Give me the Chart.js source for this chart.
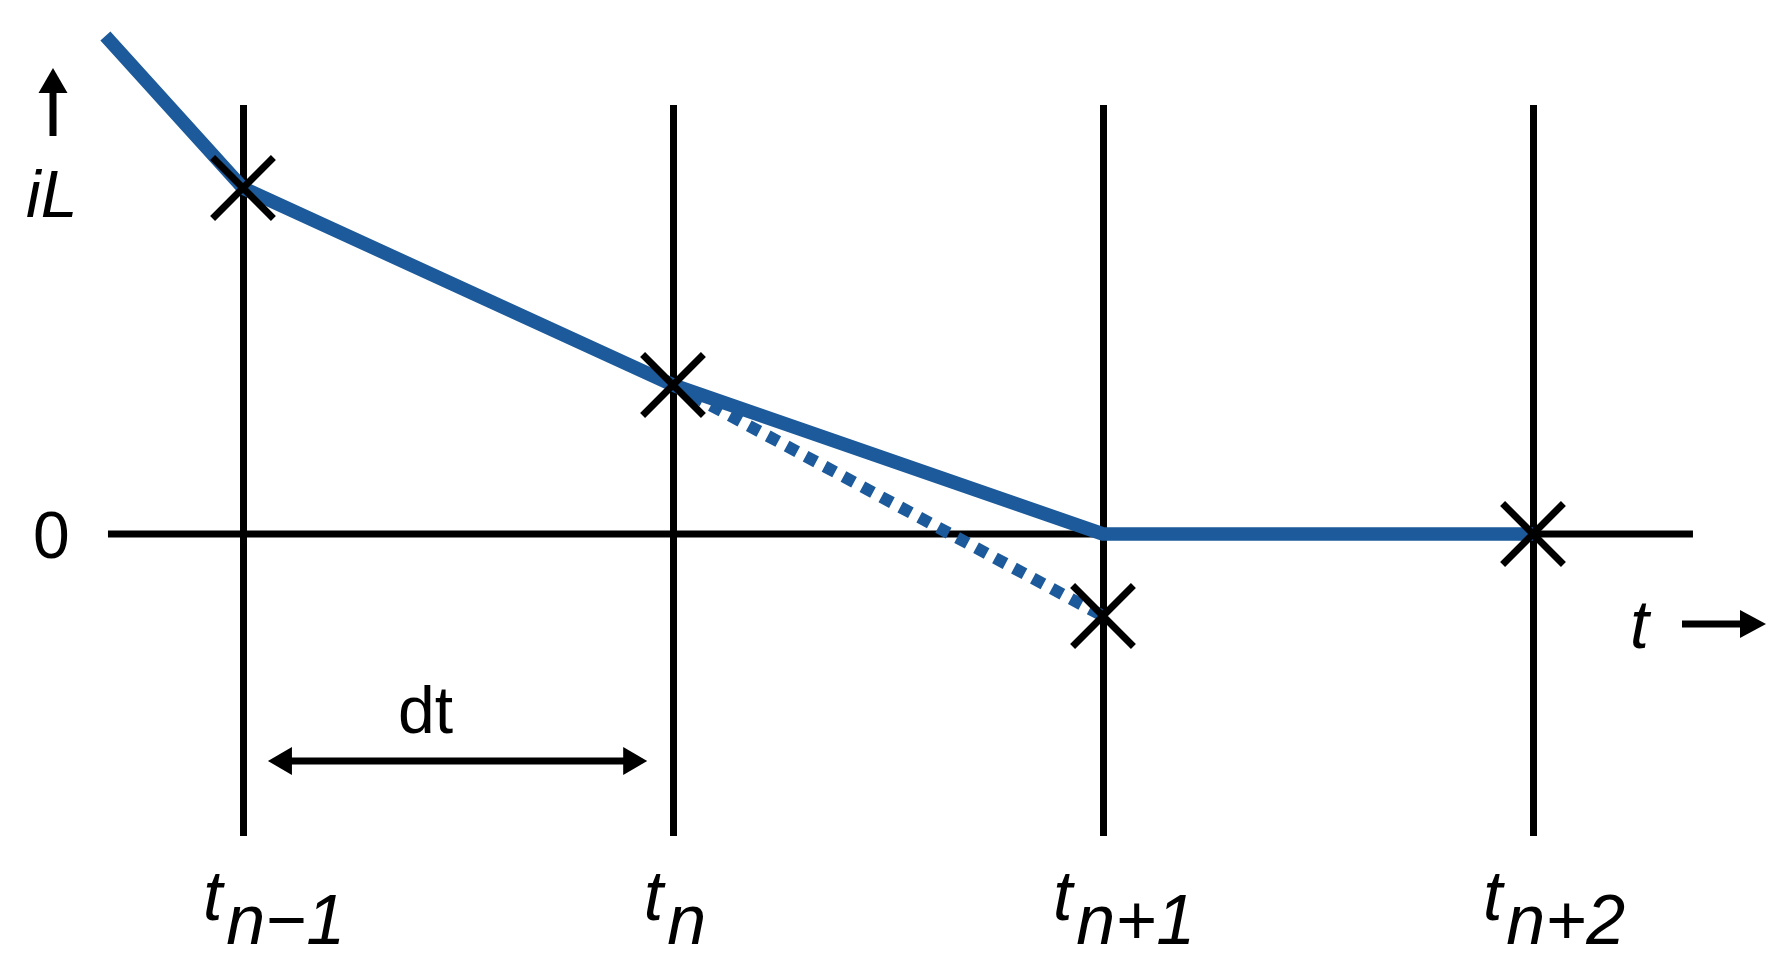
<!DOCTYPE html>
<html>
<head>
<meta charset="utf-8">
<script src="https://cdn.jsdelivr.net/npm/chart.js@4/dist/chart.umd.min.js"></script>
<style>
  html, body { margin: 0; padding: 0; background: #ffffff; }
  #wrap { width: 1788px; height: 963px; }
</style>
</head>
<body>
<div id="wrap"><canvas id="c" width="1788" height="963"></canvas></div>
<script>
// ---- data ----
const gridTimes   = [1, 2, 3, 4];                 // t(n-1), t(n), t(n+1), t(n+2)
const tickMain    = ['t', 't', 't', 't'];
const tickSub     = ['n\u22121', 'n', 'n+1', 'n+2'];
const currentTimes  = [0.68, 1, 2, 3, 4];
const currentValues = [4.98, 3.46, 1.49, 0, 0];
const predictedTimes  = [2, 3];
const predictedValues = [1.49, -0.82];
const sampleTimes  = [1, 2, 3, 4];
const sampleValues = [3.46, 1.49, -0.82, 0];
const yAxisLabel = 'iL';
const xAxisLabel = 't';
const zeroLabel = '0';
const stepLabel = 'dt';

const BLUE = '#1c5a9b';
const FONT = '"Liberation Sans", Arial, sans-serif';

function pts(xs, ys) { return xs.map((x, i) => ({ x: x, y: ys[i] })); }

function arrowHead(ctx, x, y, dir, len, half) {
  ctx.save();
  ctx.translate(x, y);
  ctx.rotate(dir);
  ctx.beginPath();
  ctx.moveTo(0, 0);
  ctx.lineTo(-len, -half);
  ctx.lineTo(-len, half);
  ctx.closePath();
  ctx.fill();
  ctx.restore();
}

const decor = {
  id: 'decor',
  beforeDatasetsDraw(chart) {
    const ctx = chart.ctx, xs = chart.scales.x, ys = chart.scales.y;
    ctx.save();
    ctx.strokeStyle = '#000';
    ctx.lineWidth = 7;
    ctx.lineCap = 'butt';
    gridTimes.forEach(t => {
      const px = Math.round(xs.getPixelForValue(t)) + 0.5;
      ctx.beginPath();
      ctx.moveTo(px, ys.getPixelForValue(4.29));
      ctx.lineTo(px, ys.getPixelForValue(-3.02));
      ctx.stroke();
    });
    const y0 = ys.getPixelForValue(0);
    ctx.beginPath();
    ctx.moveTo(xs.getPixelForValue(0.686), y0);
    ctx.lineTo(xs.getPixelForValue(4.372), y0);
    ctx.stroke();
    ctx.restore();
  },
  afterDatasetsDraw(chart) {
    const ctx = chart.ctx, xs = chart.scales.x, ys = chart.scales.y;
    ctx.save();
    ctx.fillStyle = '#000';
    ctx.strokeStyle = '#000';
    ctx.lineWidth = 7;
    ctx.lineCap = 'butt';

    // up arrow (iL)
    ctx.beginPath();
    ctx.moveTo(53, 136);
    ctx.lineTo(53, 88);
    ctx.stroke();
    arrowHead(ctx, 53, 68, -Math.PI / 2, 25, 14.5);

    ctx.textBaseline = 'alphabetic';
    ctx.font = 'italic 66px ' + FONT;
    ctx.textAlign = 'left';
    ctx.fillText(yAxisLabel, 26, 217);

    ctx.font = '66px ' + FONT;
    ctx.fillText(zeroLabel, 33, ys.getPixelForValue(0) + 24);

    // t arrow
    ctx.font = 'italic 68px ' + FONT;
    ctx.fillText(xAxisLabel, 1630, 648);
    ctx.beginPath();
    ctx.moveTo(1682, 624);
    ctx.lineTo(1745, 624);
    ctx.stroke();
    arrowHead(ctx, 1766, 624, 0, 26, 14);

    // dt double arrow
    const yd = ys.getPixelForValue(-2.27);
    const xa = xs.getPixelForValue(1.058), xb = xs.getPixelForValue(1.94);
    ctx.beginPath();
    ctx.moveTo(xa + 20, yd);
    ctx.lineTo(xb - 20, yd);
    ctx.stroke();
    arrowHead(ctx, xa, yd, Math.PI, 24, 14);
    arrowHead(ctx, xb, yd, 0, 24, 14);
    ctx.font = '66px ' + FONT;
    ctx.textAlign = 'center';
    ctx.fillText(stepLabel, (xa + xb) / 2 - 32, 733);

    // tick labels t with subscripts
    const shift = [17, -12, 7, 7];
    ctx.font = 'italic 70px ' + FONT;
    ctx.textAlign = 'left';
    gridTimes.forEach((t, i) => {
      const px = xs.getPixelForValue(t);
      const wMain = ctx.measureText(tickMain[i]).width;
      const wSub = ctx.measureText(tickSub[i]).width;
      const gap = 4;
      const total = wMain + gap + wSub;
      const left = px - total / 2 + 14 + shift[i];
      ctx.fillText(tickMain[i], left, 920);
      ctx.fillText(tickSub[i], left + wMain + gap, 944);
    });
    ctx.restore();
  }
};

new Chart(document.getElementById('c'), {
  type: 'scatter',
  data: {
    datasets: [
      {
        label: 'samples',
        data: pts(sampleTimes, sampleValues),
        showLine: false,
        pointStyle: 'crossRot',
        pointRadius: 43,
        pointBorderWidth: 7,
        pointBorderColor: '#000',
        pointBackgroundColor: '#000',
        order: 0
      },
      {
        label: 'iL',
        data: pts(currentTimes, currentValues),
        showLine: true,
        borderColor: BLUE,
        borderWidth: 13.5,
        borderCapStyle: 'butt',
        borderJoinStyle: 'round',
        pointRadius: 0,
        tension: 0,
        order: 1
      },
      {
        label: 'predicted',
        data: pts(predictedTimes, predictedValues),
        showLine: true,
        borderColor: BLUE,
        borderWidth: 12,
        borderDash: [12, 9.5],
        borderCapStyle: 'butt',
        pointRadius: 0,
        tension: 0,
        order: 2
      }
    ]
  },
  options: {
    responsive: false,
    animation: false,
    devicePixelRatio: 1,
    layout: { padding: 0, autoPadding: false },
    plugins: { legend: { display: false }, tooltip: { enabled: false } },
    scales: {
      x: { type: 'linear', display: false, min: 0.4349, max: 4.593 },
      y: { type: 'linear', display: false, min: -4.29, max: 5.34 }
    }
  },
  plugins: [decor]
});
</script>
</body>
</html>
